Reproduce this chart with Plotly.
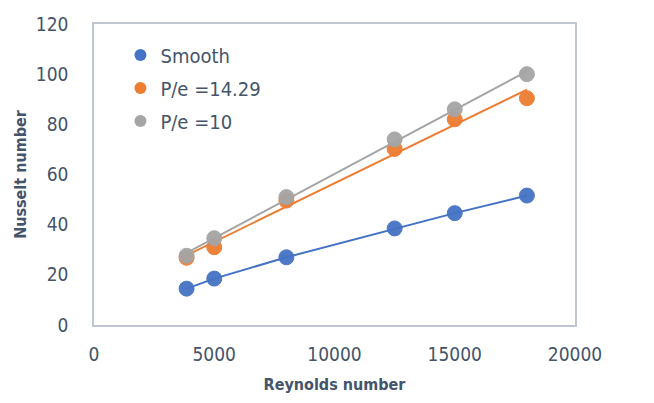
import numpy as np
import plotly.graph_objects as go

reynolds = [3850, 5000, 8000, 12500, 15000, 18000]
nu_smooth = [14.5, 18.5, 27.0, 38.5, 44.6, 51.6]
nu_p1429 = [26.8, 31.0, 49.6, 70.2, 82.0, 90.4]
nu_p10 = [27.6, 34.6, 51.0, 74.0, 86.0, 100.0]

names = ["Smooth", "P/e =14.29", "P/e =10"]
colors = ["#4472C4", "#ED7D31", "#A5A5A5"]
font_fam = "DejaVu Sans Condensed, Open Sans, DejaVu Sans, sans-serif"
txt = "#44546A"

fig = go.Figure()
x = np.array(reynolds, dtype=float)
# Smooth: markers joined by line
fig.add_trace(go.Scatter(x=reynolds, y=nu_smooth, mode="lines+markers", name=names[0],
                         line=dict(color=colors[0], width=2), showlegend=False,
                         marker=dict(size=15, color=colors[0], opacity=0.95,
                                     line=dict(color=colors[0], width=1))))
# other series: markers + linear trendline
for ys, nm, c in [(nu_p1429, names[1], colors[1]), (nu_p10, names[2], colors[2])]:
    fig.add_trace(go.Scatter(x=reynolds, y=ys, mode="markers", name=nm, showlegend=False,
                             marker=dict(size=15, color=c, opacity=0.95, line=dict(color=c, width=1))))
    k, b = np.polyfit(x, np.array(ys, dtype=float), 1)
    fig.add_trace(go.Scatter(x=[x.min(), x.max()], y=[k * x.min() + b, k * x.max() + b],
                             mode="lines", line=dict(color=c, width=2), showlegend=False,
                             hoverinfo="skip"))
# legend entries (marker only)
for i, (nm, c) in enumerate(zip(names, colors)):
    fig.add_trace(go.Scatter(x=[None], y=[None], mode="markers", name=nm, legendgroup=f"g{i}",
                             marker=dict(size=12, color=c)))

fig.update_layout(
    width=654, height=403,
    margin=dict(l=86, r=87, t=16, b=86),
    plot_bgcolor="white", paper_bgcolor="white",
    font=dict(family=font_fam, color=txt, size=19),
    showlegend=True,
    legend=dict(x=0.055, y=0.962, xanchor="left", yanchor="top", bgcolor="rgba(0,0,0,0)",
                font=dict(size=20, color=txt), tracegroupgap=4),
    xaxis=dict(range=[0, 20000], tickvals=[0, 5000, 10000, 15000, 20000],
               ticktext=["0", "5000", "10000", "15000", "20000"], automargin=False,
               showgrid=False, zeroline=False, showline=True, linecolor="#BFC6D1", linewidth=1.5,
               mirror=True, ticks="outside", ticklen=11, tickcolor="rgba(0,0,0,0)",
               title=dict(text="<b>Reynolds number</b>", font=dict(size=16, color=txt), standoff=15)),
    yaxis=dict(range=[0, 120], tickvals=[0, 20, 40, 60, 80, 100, 120], automargin=False,
               showgrid=False, zeroline=False, showline=True, linecolor="#BFC6D1", linewidth=1.5,
               mirror=True, ticks="outside", ticklen=20, tickcolor="rgba(0,0,0,0)",
               title=dict(text="<b>Nusselt number</b>", font=dict(size=16, color=txt), standoff=5)),
)
fig.write_html("out.html")
